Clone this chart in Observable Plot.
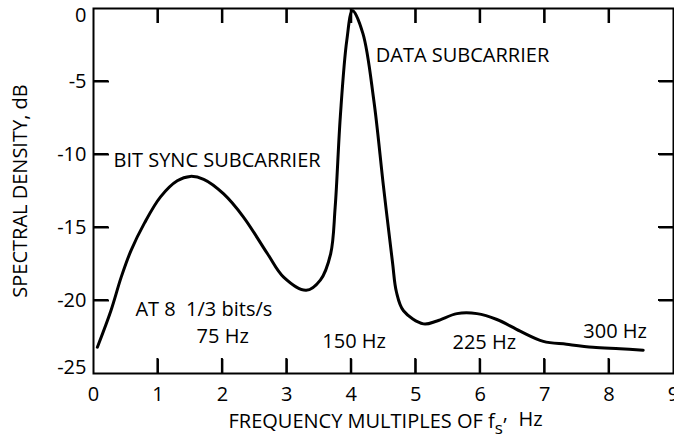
<!DOCTYPE html>
<html><head><meta charset="utf-8">
<script src="https://cdn.jsdelivr.net/npm/d3@7"></script>
<script src="https://cdn.jsdelivr.net/npm/@observablehq/plot@0.6"></script>
<style>body{margin:0;background:#fff;overflow:hidden}</style>
</head><body><div id="chart"></div>
<script>
// Frequency multiples of fs and spectral density (dB)
const freq    = [0.06, 0.27, 0.43, 0.58, 0.79, 1.04, 1.30, 1.50, 1.71, 2.02, 2.33, 2.70, 2.95, 3.30, 3.52, 3.68, 3.75, 3.83, 3.93, 4.02, 4.18, 4.35, 4.50, 4.64, 4.70, 4.81, 5.12, 5.33, 5.64, 5.95, 6.26, 6.62, 6.98, 7.34, 7.75, 8.17, 8.53];
const density = [-23.2, -20.7, -18.4, -16.6, -14.7, -12.9, -11.8, -11.5, -11.7, -12.7, -14.3, -16.8, -18.4, -19.3, -18.6, -16.8, -13.6, -7.4, -2.2, -0.15, -1.7, -6.3, -12.2, -17.4, -19.4, -20.7, -21.6, -21.4, -20.9, -20.9, -21.3, -22.1, -22.8, -23.0, -23.2, -23.3, -23.4];

const xTickLabels = [0, 1, 2, 3, 4, 5, 6, 7, 8, 9];
const xTickMarks  = [1, 2, 3, 4, 5, 6, 7, 8];
const yTickLabelsInner = [-5, -10, -15, -20];
const yTickLabelTop = [0];
const yTickLabelBottom = [-25];
const yTickMarks  = [-5, -10, -15, -20];

const labelText = ["BIT SYNC SUBCARRIER", "DATA SUBCARRIER", "AT 8  1/3 bits/s", "75 Hz", "150 Hz", "225 Hz", "300 Hz"];
const labelX    = [0.31, 4.38, 0.65, 1.60, 3.55, 5.57, 7.60];
const labelY    = [-10.4, -3.2, -20.6, -22.5, -22.8, -22.9, -22.1];

const curve = freq.map((f, i) => ({f, d: density[i]}));
const labels = labelText.map((t, i) => ({t, x: labelX[i], y: labelY[i]}));

const FONT = "Open Sans";
const FS = 20;
const W = 674, H = 445, ML = 93, MR = 1, MT = 8, MB = 72;
const TICK = 15;
const xDomain = [0, 9], yDomain = [-25, 0];
const frameW = W - ML - MR, frameH = H - MT - MB;
const noText = () => "";

const chart = Plot.plot({
  width: W,
  height: H,
  marginLeft: ML,
  marginRight: MR,
  marginTop: MT,
  marginBottom: MB,
  style: {fontFamily: FONT, fontSize: FS + "px", background: "#fff", color: "#000"},
  x: {domain: xDomain},
  y: {domain: yDomain},
  marks: [
    Plot.frame({stroke: "#000", strokeWidth: 2}),
    // inward tick marks: axes shifted onto the opposite side of the frame
    Plot.axisX(xTickMarks, {anchor: "top", dy: frameH, tickSize: TICK, strokeWidth: 2, stroke: "#000", tickFormat: noText, label: null}),
    Plot.axisX(xTickMarks, {anchor: "bottom", dy: -frameH, tickSize: TICK, strokeWidth: 2, stroke: "#000", tickFormat: noText, label: null}),
    Plot.axisY(yTickMarks, {anchor: "right", dx: -frameW, tickSize: TICK, strokeWidth: 2, stroke: "#000", tickFormat: noText, label: null}),
    Plot.axisY(yTickMarks, {anchor: "left", dx: frameW, tickSize: TICK - 1, strokeWidth: 2, stroke: "#000", tickFormat: noText, label: null}),
    // tick labels
    Plot.axisX(xTickLabels, {anchor: "bottom", tickSize: 0, tickPadding: 13, tickFormat: d => String(d), label: null, fontSize: FS}),
    Plot.axisY(yTickLabelsInner, {anchor: "left", tickSize: 0, tickPadding: 7, tickFormat: d => String(d), label: null, fontSize: FS}),
    Plot.axisY(yTickLabelTop, {anchor: "left", tickSize: 0, tickPadding: 7, dy: 7, tickFormat: d => String(d), label: null, fontSize: FS}),
    Plot.axisY(yTickLabelBottom, {anchor: "left", tickSize: 0, tickPadding: 7, dy: -6, tickFormat: d => String(d), label: null, fontSize: FS}),
    // curve
    Plot.line(curve, {x: "f", y: "d", curve: "catmull-rom", stroke: "#000", strokeWidth: 3, strokeLinejoin: "round", strokeLinecap: "round"}),
    // annotations
    Plot.text(labels, {x: "x", y: "y", text: "t", textAnchor: "start", fontSize: FS, fill: "#000"}),
    // axis titles
    Plot.text(["FREQUENCY MULTIPLES OF f"], {frameAnchor: "bottom", dy: 54, dx: 2, text: d => d, textAnchor: "middle", fontSize: FS, fill: "#000"}),
    Plot.text(["SPECTRAL DENSITY, dB"], {frameAnchor: "left", dx: -73, rotate: -90, text: d => d, textAnchor: "middle", fontSize: FS, fill: "#000"})
  ]
});

document.getElementById("chart").appendChild(chart);

// also draw the inward ticks directly with the plot's own scales
const sx = chart.scale("x"), sy = chart.scale("y");
const svg = d3.select(chart);
const tg = svg.append("g").attr("stroke", "#000").attr("stroke-width", 2);
for (const v of xTickMarks) {
  const px = sx.apply(v);
  tg.append("path").attr("d", `M${px},${sy.apply(yDomain[0])}v${-TICK}`);
  tg.append("path").attr("d", `M${px},${sy.apply(yDomain[1])}v${TICK}`);
}
for (const v of yTickMarks) {
  const py = sy.apply(v);
  tg.append("path").attr("d", `M${sx.apply(xDomain[0])},${py}h${TICK}`);
  tg.append("path").attr("d", `M${sx.apply(xDomain[1])},${py}h${-TICK}`);
}

// add subscript "s" and ", Hz" to the x-axis title
const xt = svg.selectAll("text").filter(function() { return this.textContent === "FREQUENCY MULTIPLES OF f"; });
xt.append("tspan").attr("dy", "0.4em").attr("font-size", "17px").text("s");
xt.append("tspan").attr("dy", "-0.7em").text(",");
xt.append("tspan").attr("dy", "0.3em").text("  Hz");
</script>
</body></html>
